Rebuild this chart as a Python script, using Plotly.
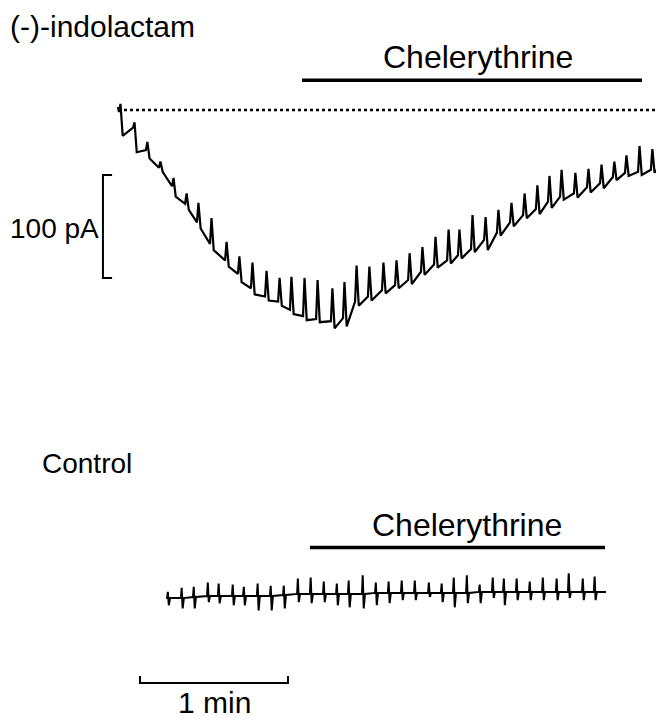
import plotly.graph_objects as go

# ------------------------------
# Data (time in s, current in pA)
# ------------------------------

# (-)-indolactam trace: one entry per spontaneous event
top_t = [0.4, 6.1, 11.3, 16.6, 21.9, 27.2, 32.0, 37.3, 43.4, 48.6, 53.9, 59.6, 64.9, 69.7,
         75.0, 80.3, 86.3, 91.2, 96.1, 101.3, 107.0, 112.3, 117.6, 122.8, 128.1, 133.4,
         137.8, 143.1, 148.4, 153.6, 158.9, 164.2, 169.4, 174.3, 179.2, 184.8, 190.1,
         195.4, 200.6, 205.5, 210.8, 216.0]
top_base = [-2, -17, -39, -56, -74, -91, -109, -130, -146, -159, -173, -181, -186, -194,
            -200, -203, -205, -202, -186, -181, -175, -170, -165, -157, -150, -146, -141,
            -135, -126, -119, -109, -102, -96, -89, -84, -81, -75, -71, -65, -61, -60, -58]
top_peak = [6, -12, -31, -50, -66, -81, -90, -105, -128, -142, -148, -156, -163, -162,
            -163, -165, -173, -167, -151, -152, -148, -146, -139, -133, -123, -116, -116,
            -102, -104, -97, -90, -81, -73, -64, -58, -61, -57, -53, -50, -44, -35, -38]
top_dip = [-25, -41, -47, -60, -84, -97, -115, -136, -152, -167, -179, -185, -190, -198,
           -204, -206, -212, -210, -190, -185, -178, -173, -169, -160, -153, -149, -144,
           -138, -136, -122, -113, -105, -101, -95, -87, -85, -80, -76, -68, -64, -63, -61]
top_start = (0.0, 3)
top_end = (218.1, -58)

# Control trace
ctl_t = [19.9, 25.5, 30.4, 36.1, 40.5, 46.2, 50.7, 56.3, 61.6, 66.9, 72.6, 77.8, 83.1,
         88.4, 93.2, 98.9, 104.2, 109.4, 114.7, 120.0, 125.7, 130.9, 135.8, 141.1, 146.3,
         151.6, 156.1, 161.3, 166.6, 171.9, 177.5, 182.4, 188.1, 192.9]
ctl_base = [-3, -3, -2, -1, -1, -1, -1, -1, -1, 0, 1, 1, 1, 1, 1, 1, 2, 2, 2, 2, 2, 2, 2,
            2, 3, 3, 3, 3, 3, 3, 3, 3, 3, 3]
ctl_up = [3, 7, 8, 12, 11, 10, 8, 11, 9, 9, 16, 17, 13, 11, 14, 19, 12, 13, 14, 14, 12, 11,
          17, 19, 10, 17, 16, 16, 13, 17, 16, 21, 16, 18]
ctl_down = [-10, -13, -13, -7, -8, -10, -10, -15, -15, -13, -7, -8, -7, -10, -12, -13, -10,
            -8, -5, -5, -2, -7, -12, -8, -8, -3, -10, -5, -5, -5, -5, -3, -5, -5]
ctl_start = (19.5, -3)
ctl_end = (197.8, 3)

# Drug application periods (s)
chel_top = (74.6, 212.4)
chel_ctl = (77.8, 197.4)

font = "Liberation Sans"


def build_top():
    xs, ys = [top_start[0]], [top_start[1]]
    for t, b, p, d in zip(top_t, top_base, top_peak, top_dip):
        xs += [t, t + 0.6, t + 1.5]
        ys += [b, p, d]
    xs.append(top_end[0])
    ys.append(top_end[1])
    return xs, ys


def build_ctl():
    xs, ys = [ctl_start[0]], [ctl_start[1]]
    for t, b, u, d in zip(ctl_t, ctl_base, ctl_up, ctl_down):
        xs += [t, t + 0.3, t + 0.7, t + 1.2]
        ys += [b, u, d, b]
    xs.append(ctl_end[0])
    ys.append(ctl_end[1])
    return xs, ys


fig = go.Figure()

tx, ty = build_top()
fig.add_trace(go.Scatter(x=tx, y=ty, mode="lines", line=dict(color="black", width=2.2),
                         xaxis="x", yaxis="y"))
# zero-current reference
fig.add_trace(go.Scatter(x=[0, 218.5], y=[0, 0], mode="lines",
                         line=dict(color="black", width=2.5, dash="dot"), xaxis="x", yaxis="y"))

cx, cy = build_ctl()
fig.add_trace(go.Scatter(x=cx, y=cy, mode="lines", line=dict(color="black", width=2),
                         xaxis="x", yaxis="y2"))

# Chelerythrine bars
fig.add_shape(type="line", x0=chel_top[0], x1=chel_top[1], y0=29, y1=29,
              xref="x", yref="y", line=dict(color="black", width=3.5))
fig.add_shape(type="line", x0=chel_ctl[0], x1=chel_ctl[1], y0=46, y1=46,
              xref="x", yref="y2", line=dict(color="black", width=3.5))

# 100 pA scale bar
fig.add_shape(type="path", path="M -2.4,-63 L -6.1,-63 L -6.1,-163 L -2.4,-163",
              xref="x", yref="y", line=dict(color="black", width=2))
# 1 min scale bar
fig.add_shape(type="path", path="M 8.9,-78.6 L 8.9,-85.4 L 68.9,-85.4 L 68.9,-78.6",
              xref="x", yref="y2", line=dict(color="black", width=2))

labels = [
    dict(x=0, xref="paper", y=1, yref="paper", text="(-)-indolactam", xanchor="left",
         yanchor="top", size=30),
    dict(x=145.9, xref="x", y=51.5, yref="y", text="Chelerythrine", xanchor="center",
         yanchor="middle", size=32),
    dict(x=-6.8, xref="x", y=-114.6, yref="y", text="100 pA", xanchor="right",
         yanchor="middle", size=28),
    dict(x=-31.6, xref="x", y=128, yref="y2", text="Control", xanchor="left",
         yanchor="middle", size=28),
    dict(x=141.5, xref="x", y=68, yref="y2", text="Chelerythrine", xanchor="center",
         yanchor="middle", size=32),
    dict(x=39.3, xref="x", y=-104.8, yref="y2", text="1 min", xanchor="center",
         yanchor="middle", size=30),
]
for lab in labels:
    fig.add_annotation(x=lab["x"], y=lab["y"], xref=lab["xref"], yref=lab["yref"],
                       text=lab["text"], showarrow=False, xanchor=lab["xanchor"],
                       yanchor=lab["yanchor"],
                       font=dict(family=font, size=lab["size"], color="black"))

# page has an 8px body margin, so the figure is 8px smaller and ranges start there
fig.update_layout(
    width=656,
    height=712,
    margin=dict(l=0, r=0, t=0, b=0),
    paper_bgcolor="white",
    plot_bgcolor="white",
    showlegend=False,
    xaxis=dict(range=[-44.59, 221.32], visible=False, fixedrange=True),
    yaxis=dict(range=[-281.5, 99.03], domain=[0.44944, 1], visible=False),
    yaxis2=dict(range=[-121.4, 189.3], domain=[0, 0.44944], visible=False),
)

fig.write_html("out.html")
